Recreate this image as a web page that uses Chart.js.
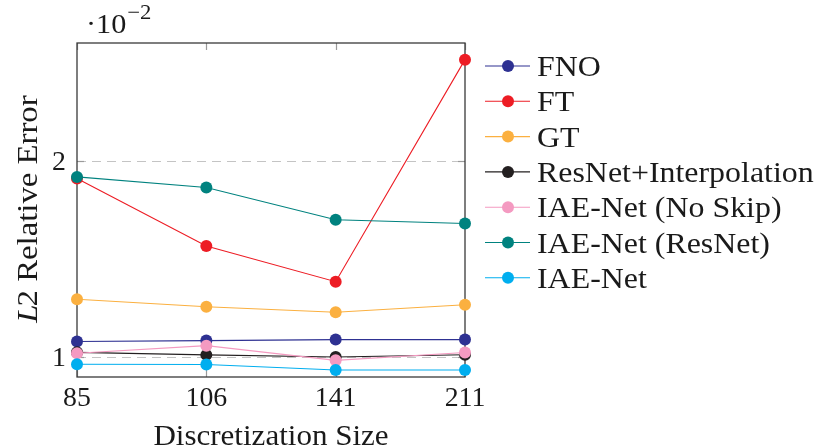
<!DOCTYPE html>
<html>
<head>
<meta charset="utf-8">
<script src="https://cdn.jsdelivr.net/npm/chart.js@4/dist/chart.umd.min.js"></script>
<style>
html,body{margin:0;padding:0;background:#fff;}
#wrap{width:819px;height:448px;}
</style>
</head>
<body>
<div id="wrap"><canvas id="c" width="819" height="448"></canvas></div>
<script>
// ---- data (values in units of 10^-2) ----
const categories = ['85', '106', '141', '211'];
const seriesNames = ['FNO', 'FT', 'GT', 'ResNet+Interpolation', 'IAE-Net (No Skip)', 'IAE-Net (ResNet)', 'IAE-Net'];
const fno        = [1.077, 1.082, 1.087, 1.087];
const ft         = [1.910, 1.565, 1.383, 2.517];
const gt         = [1.293, 1.255, 1.227, 1.265];
const resnetInterp = [1.022, 1.009, 0.998, 1.010];
const iaeNoSkip  = [1.017, 1.056, 0.981, 1.021];
const iaeResNet  = [1.918, 1.864, 1.699, 1.680];
const iaeNet     = [0.961, 0.960, 0.932, 0.932];
const yTickValues = [1, 2];
const yAxisTitleItalic = 'L';
const yAxisTitleRest = '2 Relative Error';
const xAxisTitle = 'Discretization Size';
const scaleBase = '\u00B710';
const scaleExp = '\u22122';

const seriesValues = [fno, ft, gt, resnetInterp, iaeNoSkip, iaeResNet, iaeNet];
const colors = ['#2e3192', '#ed1c24', '#fbb040', '#231f20', '#f49ac1', '#00827f', '#00aeef'];

const FONT = '"Liberation Serif", "DejaVu Serif", serif';

const datasets = seriesValues.map((vals, i) => ({
  label: seriesNames[i],
  data: vals,
  borderColor: colors[i],
  backgroundColor: colors[i],
  pointBackgroundColor: colors[i],
  pointBorderColor: colors[i],
  pointRadius: 6,
  pointHoverRadius: 6,
  borderWidth: 1.1,
  pointBorderWidth: 0,
  tension: 0,
  clip: false,
  order: seriesValues.length - 1 - i
}));

// draws text with a horizontal stretch (Computer Modern is wider than Liberation Serif)
function stretchText(ctx, text, x, y, font, sx, align) {
  ctx.save();
  ctx.font = font;
  const w = ctx.measureText(text).width * sx;
  let left = x;
  if (align === 'center') left = x - w / 2;
  else if (align === 'right') left = x - w;
  ctx.translate(left, y);
  ctx.scale(sx, 1);
  ctx.textAlign = 'left';
  ctx.fillText(text, 0, 0);
  ctx.restore();
  return w;
}

const decor = {
  id: 'decor',
  beforeDatasetsDraw(chart) {
    const ctx = chart.ctx;
    const a = chart.chartArea;
    const xs = chart.scales.x, ys = chart.scales.y;
    ctx.save();
    // dashed grid
    ctx.strokeStyle = '#c4c4c4';
    ctx.lineWidth = 1.2;
    ctx.setLineDash([9, 6]);
    ys.ticks.forEach(t => {
      const y = Math.round(ys.getPixelForValue(t.value)) + 0.5;
      ctx.beginPath(); ctx.moveTo(a.left, y); ctx.lineTo(a.right, y); ctx.stroke();
    });
    ctx.setLineDash([]);
    // inner ticks
    ctx.strokeStyle = '#9a9a9a';
    ctx.lineWidth = 1.2;
    xs.ticks.forEach((t, i) => {
      const x = Math.round(xs.getPixelForTick(i)) + 0.5;
      ctx.beginPath(); ctx.moveTo(x, a.top); ctx.lineTo(x, a.top + 7); ctx.stroke();
      ctx.beginPath(); ctx.moveTo(x, a.bottom); ctx.lineTo(x, a.bottom - 7); ctx.stroke();
    });
    ys.ticks.forEach(t => {
      const y = Math.round(ys.getPixelForValue(t.value)) + 0.5;
      ctx.beginPath(); ctx.moveTo(a.left, y); ctx.lineTo(a.left + 7, y); ctx.stroke();
      ctx.beginPath(); ctx.moveTo(a.right, y); ctx.lineTo(a.right - 7, y); ctx.stroke();
    });
    // frame
    ctx.strokeStyle = '#3a3a3a';
    ctx.lineWidth = 1.3;
    ctx.strokeRect(a.left, a.top, a.right - a.left, a.bottom - a.top);
    ctx.restore();
  },
  afterDraw(chart) {
    const ctx = chart.ctx;
    const a = chart.chartArea;
    const xs = chart.scales.x, ys = chart.scales.y;
    ctx.save();
    ctx.fillStyle = '#1a1a1a';
    ctx.textBaseline = 'alphabetic';
    // x tick labels
    xs.ticks.forEach((t, i) => {
      stretchText(ctx, xs.getLabelForValue(t.value), xs.getPixelForTick(i), 406, '27px ' + FONT, 1.03, 'center');
    });
    // y tick labels
    ys.ticks.forEach(t => {
      stretchText(ctx, String(t.value), 66, ys.getPixelForValue(t.value) + 9, '27px ' + FONT, 1.03, 'right');
    });
    // x title
    stretchText(ctx, xAxisTitle, (a.left + a.right) / 2, 445, '29px ' + FONT, 1.07, 'center');
    // y title
    ctx.save();
    ctx.translate(37, 209);
    ctx.rotate(-Math.PI / 2);
    const sy = 1.13;
    ctx.font = 'italic 29px ' + FONT;
    const w1 = ctx.measureText(yAxisTitleItalic).width * sy;
    ctx.font = '29px ' + FONT;
    const w2 = ctx.measureText(yAxisTitleRest).width * sy;
    const start = -(w1 + w2 - 2) / 2;
    stretchText(ctx, yAxisTitleItalic, start, 0, 'italic 29px ' + FONT, sy, 'left');
    stretchText(ctx, yAxisTitleRest, start + w1 - 2, 0, '29px ' + FONT, sy, 'left');
    ctx.restore();
    // scale factor
    const wb = stretchText(ctx, scaleBase, 86, 33, '28px ' + FONT, 1.08, 'left');
    stretchText(ctx, scaleExp, 86 + wb + 1, 19, '21px ' + FONT, 1.08, 'left');
    // legend
    const lx0 = 485, lx1 = 530, mx = 508, tx = 537;
    chart.data.datasets.forEach((ds, i) => {
      const cy = 66 + i * 35.3;
      ctx.strokeStyle = ds.borderColor;
      ctx.lineWidth = 1.1;
      ctx.beginPath(); ctx.moveTo(lx0, cy); ctx.lineTo(lx1, cy); ctx.stroke();
      ctx.fillStyle = ds.backgroundColor;
      ctx.beginPath(); ctx.arc(mx, cy, 6, 0, Math.PI * 2); ctx.fill();
      ctx.fillStyle = '#1a1a1a';
      stretchText(ctx, ds.label, tx, cy + 10, '29px ' + FONT, 1.1, 'left');
    });
    ctx.restore();
  }
};

new Chart(document.getElementById('c'), {
  type: 'line',
  data: { labels: categories, datasets: datasets },
  options: {
    responsive: false,
    animation: false,
    events: [],
    layout: { padding: { left: 0, top: 43, right: 354, bottom: 0 } },
    plugins: { legend: { display: false }, tooltip: { enabled: false }, title: { display: false } },
    scales: {
      x: {
        type: 'category',
        offset: false,
        grid: { display: false },
        border: { display: false },
        ticks: { display: false },
        afterFit: s => { s.height = 71; }
      },
      y: {
        type: 'linear',
        min: 0.896,
        max: 2.602,
        grid: { display: false },
        border: { display: false },
        ticks: { display: false },
        afterBuildTicks: s => { s.ticks = yTickValues.map(v => ({ value: v })); },
        afterFit: s => { s.width = 77; }
      }
    }
  },
  plugins: [decor]
});
</script>
</body>
</html>
